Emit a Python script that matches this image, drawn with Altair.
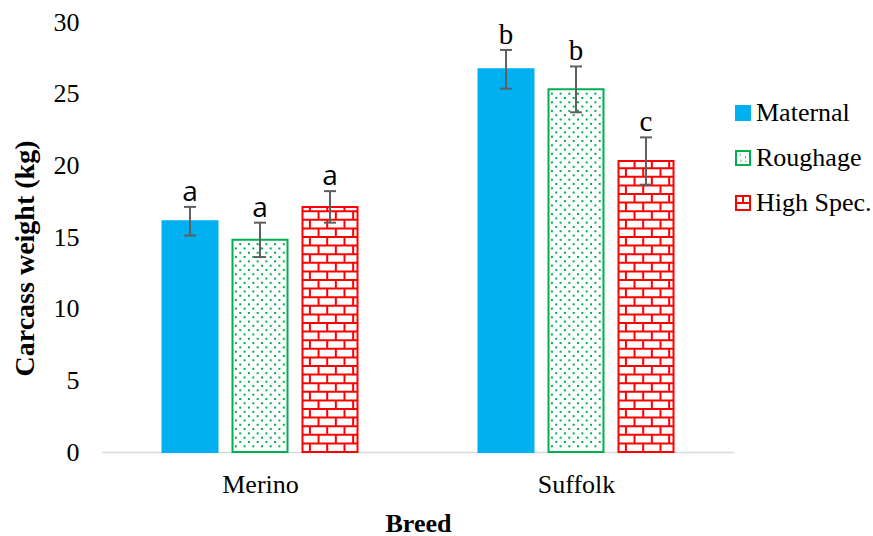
import altair as alt
import numpy as np
import pandas as pd

# ---- data -------------------------------------------------------------
BREEDS = ["Merino", "Suffolk"]
DIETS = ["Maternal", "Roughage", "High Spec."]

MATERNAL = [16.1, 26.7]
ROUGHAGE = [14.8, 25.3]
HIGH_SPEC = [17.1, 20.3]

MATERNAL_ERR = [1.0, 1.35]
ROUGHAGE_ERR = [1.2, 1.6]
HIGH_SPEC_ERR = [1.1, 1.65]

MATERNAL_LETTER = ["a", "b"]
ROUGHAGE_LETTER = ["a", "b"]
HIGH_SPEC_LETTER = ["a", "c"]

Y_TICKS = [0, 5, 10, 15, 20, 25, 30]

# ---- layout (plot area 632 x 430 px, one x unit per breed) --------------
PLOT_W, PLOT_H = 632, 430
PX = PLOT_W / len(BREEDS)          # pixels per x unit
BAR_W = 55 / PX                    # bar body width
STEP = 70 / PX                     # distance between neighbouring bars
CAP = 6 / PX                       # half width of error-bar caps
BRICK_ROW = 0.6                    # brick course height (y units)
BRICK_LEN = 17.3 / PX              # brick length (x units)
DOT_ROW = 0.3                      # dot pattern row spacing (y units)
DOT_COL = 8.7 / PX                 # dot pattern column spacing (x units)

values = {"Maternal": MATERNAL, "Roughage": ROUGHAGE, "High Spec.": HIGH_SPEC}
errors = {"Maternal": MATERNAL_ERR, "Roughage": ROUGHAGE_ERR, "High Spec.": HIGH_SPEC_ERR}
letters = {"Maternal": MATERNAL_LETTER, "Roughage": ROUGHAGE_LETTER, "High Spec.": HIGH_SPEC_LETTER}

rows = []
for i, breed in enumerate(BREEDS):
    for j, diet in enumerate(DIETS):
        c = i + 0.5 + (j - 1) * STEP
        v = values[diet][i]
        e = errors[diet][i]
        rows.append(dict(breed=breed, diet=diet, xc=c, xl=c - BAR_W / 2, xr=c + BAR_W / 2,
                         cl=c - CAP, cr=c + CAP, weight=v, lo=v - e, hi=v + e,
                         letter=letters[diet][i]))
bars = pd.DataFrame(rows)

# brick texture for the High Spec. bars
hlines, vlines = [], []
for r in rows:
    if r["diet"] != "High Spec.":
        continue
    v = r["weight"]
    k = 1
    while k * BRICK_ROW < v - 0.1:
        hlines.append(dict(x=r["xl"], x2=r["xr"], y=k * BRICK_ROW))
        k += 1
    for k in range(int(np.ceil(v / BRICK_ROW))):
        y0 = k * BRICK_ROW
        y1 = min((k + 1) * BRICK_ROW, v)
        x = r["xl"] + 7.4 / PX + (k % 2) * BRICK_LEN / 2
        while x < r["xr"] - 1.5 / PX:
            vlines.append(dict(x=x, y=y0, y2=y1))
            x += BRICK_LEN
hlines = pd.DataFrame(hlines)
vlines = pd.DataFrame(vlines)

# dotted texture for the Roughage bars
dots = []
for r in rows:
    if r["diet"] != "Roughage":
        continue
    v = r["weight"]
    k = 0
    y = 0.4
    while y < v - 0.2:
        x = r["xl"] + (3.4 / PX if k % 2 == 0 else 7.75 / PX)
        while x < r["xr"] - 2 / PX:
            dots.append(dict(x=x, y=y))
            x += DOT_COL
        k += 1
        y += DOT_ROW
dots = pd.DataFrame(dots)

caps = pd.concat([
    bars[["cl", "cr", "hi"]].rename(columns={"hi": "y"}),
    bars[["cl", "cr", "lo"]].rename(columns={"lo": "y"}),
])

# ---- scales, axes, legend ---------------------------------------------
SERIF = "Liberation Serif"
xs = alt.Scale(domain=[0, len(BREEDS)], nice=False, zero=False)
ys = alt.Scale(domain=[0, 30], nice=False)
fill_scale = alt.Scale(domain=DIETS, range=["#00B0F0", "#FFFFFF", "#FFFFFF"])
stroke_scale = alt.Scale(domain=DIETS, range=["#00B0F0", "#00B050", "#FF0000"])

SQUARE = "M-1,-1H1V1H-1Z"
DOTTED = ("M-1,-1H1V1H-1Z M-0.45,-0.45h0.12 M0.3,-0.1h0.12 "
          "M-0.35,0.4h0.12 M0.35,0.5h0.12")
BRICKS = "M-1,-1H1V1H-1Z M-1,0H1 M0,-1V0"
shape_scale = alt.Scale(domain=DIETS, range=[SQUARE, DOTTED, BRICKS])

label_expr = " : ".join(
    f"datum.value < {i + 1} ? '{b}'" for i, b in enumerate(BREEDS[:-1])
) + f" : '{BREEDS[-1]}'"

x_axis = alt.Axis(
    values=[i + 0.5 for i in range(len(BREEDS))], labelExpr=label_expr,
    title="Breed", titleFont=SERIF, titleFontSize=26, titleFontWeight="bold",
    titleColor="black", titleBaseline="alphabetic", titleY=79,
    labelFont=SERIF, labelFontSize=26, labelColor="black",
    labelBaseline="alphabetic", labelPadding=40,
    ticks=False, tickSize=0, grid=False,
    domainColor="#D9D9D9", domainWidth=1.5,
)
y_axis = alt.Axis(
    values=Y_TICKS, title="Carcass weight (kg)", titleFont=SERIF, titleFontSize=28,
    titleFontWeight="bold", titleColor="black", titleAngle=270,
    titleX=-77, titleY=236, titleAlign="center", titleBaseline="middle",
    labelFont=SERIF, labelFontSize=26, labelColor="black", labelPadding=23,
    ticks=False, tickSize=0, domain=False, grid=False,
)
legend = alt.Legend(
    title=None, orient="none", legendX=628, legendY=78, padding=0,
    labelFont=SERIF, labelFontSize=26, labelColor="black", labelLimit=400,
    labelOffset=0, rowPadding=19, symbolSize=196, symbolStrokeWidth=2,
    symbolOpacity=1,
)


def X(field):
    return alt.X(field, scale=xs, axis=x_axis)


def Y(field, **kw):
    return alt.Y(field, scale=ys, axis=y_axis, **kw)


# ---- layers -----------------------------------------------------------
bar_layer = alt.Chart(bars).mark_bar(strokeWidth=2).encode(
    x=X("xl:Q"), x2="xr:Q",
    y=Y("weight:Q", stack=None), y2=alt.datum(0),
    fill=alt.Fill("diet:N", scale=fill_scale, legend=legend),
    stroke=alt.Stroke("diet:N", scale=stroke_scale, legend=legend),
)

brick_h = alt.Chart(hlines).mark_rule(color="#FF0000", strokeWidth=2).encode(
    x=X("x:Q"), x2="x2:Q", y=Y("y:Q"),
)
brick_v = alt.Chart(vlines).mark_rule(color="#FF0000", strokeWidth=2).encode(
    x=X("x:Q"), y=Y("y:Q"), y2="y2:Q",
)
dot_layer = alt.Chart(dots).mark_square(color="#00B050", size=4, opacity=1).encode(
    x=X("x:Q"), y=Y("y:Q"),
)

err_color = "#5F5F5F"
err_layer = alt.Chart(bars).mark_rule(color=err_color, strokeWidth=2).encode(
    x=X("xc:Q"), y=Y("lo:Q"), y2="hi:Q",
)
cap_layer = alt.Chart(caps).mark_rule(color=err_color, strokeWidth=2).encode(
    x=X("cl:Q"), x2="cr:Q", y=Y("y:Q"),
)

letters_a = alt.Chart(bars).transform_filter(
    alt.datum.breed == BREEDS[0]
).mark_text(font="Open Sans", fontSize=28, baseline="alphabetic", dy=-6, color="black").encode(
    x=X("xc:Q"), y=Y("hi:Q"), text="letter:N",
)
letters_b = alt.Chart(bars).transform_filter(
    alt.datum.breed == BREEDS[1]
).mark_text(font=SERIF, fontSize=29, baseline="alphabetic", dy=-6, color="black").encode(
    x=X("xc:Q"), y=Y("hi:Q"), text="letter:N",
)

legend_layer = alt.Chart(bars).transform_filter("false").mark_point(
    filled=True, opacity=1, strokeWidth=2
).encode(
    x=X("xc:Q"), y=Y("weight:Q"),
    fill=alt.Fill("diet:N", scale=fill_scale, legend=legend),
    stroke=alt.Stroke("diet:N", scale=stroke_scale, legend=legend),
    shape=alt.Shape("diet:N", scale=shape_scale, legend=legend),
)

chart = alt.layer(
    bar_layer, dot_layer, brick_h, brick_v, err_layer, cap_layer,
    letters_a, letters_b, legend_layer,
).properties(
    width=PLOT_W, height=PLOT_H,
    autosize=alt.AutoSizeParams(type="none"),
    padding={"left": 102, "top": 22, "right": 139, "bottom": 84},
    background="white",
).configure_view(stroke=None)

chart.save("out.html", embed_options={"renderer": "svg", "actions": False})
